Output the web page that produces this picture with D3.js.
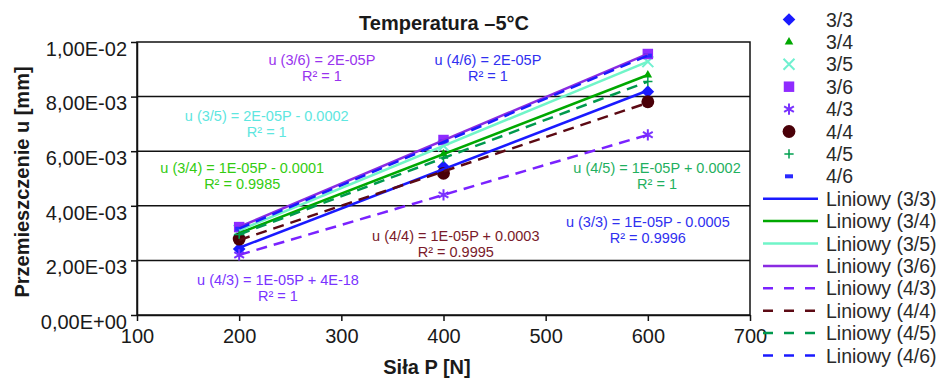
<!DOCTYPE html>
<html>
<head>
<meta charset="utf-8">
<script src="https://cdn.jsdelivr.net/npm/d3@7"></script>
<style>
  body { margin: 0; background: #fff; }
  svg { font-family: "Liberation Sans", Arial, sans-serif; }
</style>
</head>
<body>
<div id="chart"></div>
<script>
// data
const forces = [200, 400, 600];
const u33 = [0.00242, 0.00543, 0.00818];
const u34 = [0.00300, 0.00590, 0.00879];
const u35 = [0.00310, 0.00620, 0.00928];
const u36 = [0.00322, 0.00641, 0.00956];
const u43 = [0.00220, 0.00440, 0.00660];
const u44 = [0.00278, 0.00519, 0.00781];
const u45 = [0.00295, 0.00575, 0.00855];
const u46 = [0.00316, 0.00635, 0.00950];

const seriesNames = ["3/3", "3/4", "3/5", "3/6", "4/3", "4/4", "4/5", "4/6"];
const seriesValues = [u33, u34, u35, u36, u43, u44, u45, u46];

const xTicks = [100, 200, 300, 400, 500, 600, 700];
const yTicks = [0, 0.002, 0.004, 0.006, 0.008, 0.01];
const yTickLabels = ["0,00E+00", "2,00E-03", "4,00E-03", "6,00E-03", "8,00E-03", "1,00E-02"];

const equations = [
  ["u (3/3) = 1E-05P - 0.0005", "R\u00b2 = 0.9996"],
  ["u (3/4) = 1E-05P - 0.0001", "R\u00b2 = 0.9985"],
  ["u (3/5) = 2E-05P - 0.0002", "R\u00b2 = 1"],
  ["u (3/6) = 2E-05P", "R\u00b2 = 1"],
  ["u (4/3) = 1E-05P + 4E-18", "R\u00b2 = 1"],
  ["u (4/4) = 1E-05P + 0.0003", "R\u00b2 = 0.9995"],
  ["u (4/5) = 1E-05P + 0.0002", "R\u00b2 = 1"],
  ["u (4/6) = 2E-05P", "R\u00b2 = 1"]
];

// where each equation box sits, in data units (P, u)
const eqAnchor = [
  [600, 0.00322], [203, 0.00520], [227, 0.00711], [281, 0.00916],
  [238, 0.00110], [412, 0.00271], [609, 0.00520], [443.5, 0.00916]
];

// styles per series
const styles = [
  {marker: "diamond", mColor: "#1a1aff", lColor: "#1a1aff", dash: null, tColor: "#3030f0"},
  {marker: "triangle", mColor: "#00a800", lColor: "#00a800", dash: null, tColor: "#33cc11"},
  {marker: "x", mColor: "#70f0d0", lColor: "#70f5c8", dash: null, tColor: "#5ee6e0"},
  {marker: "square", mColor: "#8f2bff", lColor: "#8a2be2", dash: null, tColor: "#9933ee"},
  {marker: "asterisk", mColor: "#7a33ff", lColor: "#7a22ff", dash: "11,7", tColor: "#7a33ff"},
  {marker: "circle", mColor: "#4a0008", lColor: "#5c0a14", dash: "11,7", tColor: "#7a1a2a"},
  {marker: "plus", mColor: "#00a050", lColor: "#00994d", dash: "11,7", tColor: "#1fb060"},
  {marker: "dash", mColor: "#2a2aff", lColor: "#1a1aff", dash: "11,7", tColor: "#3030f0"}
];

const svgWidth = 942;
const svgHeight = 379;
const margin = {top: 42, right: 192, bottom: 64, left: 137};
const width = svgWidth - margin.left - margin.right;
const height = svgHeight - margin.top - margin.bottom;

const svg = d3.select("#chart")
  .append("svg")
  .attr("width", svgWidth)
  .attr("height", svgHeight);

const chartGroup = svg.append("g")
  .attr("transform", `translate(${margin.left}, ${margin.top})`);

const xScale = d3.scaleLinear().domain([100, 700]).range([0, width]);
const yScale = d3.scaleLinear().domain([0, 0.01]).range([height, 0]);

// gridlines
chartGroup.selectAll("line.grid")
  .data(yTicks.slice(1, -1))
  .enter()
  .append("line")
  .attr("x1", 0).attr("x2", width)
  .attr("y1", d => yScale(d)).attr("y2", d => yScale(d))
  .attr("stroke", "#111").attr("stroke-width", 1.5);

// plot border
chartGroup.append("rect")
  .attr("width", width).attr("height", height)
  .attr("fill", "none").attr("stroke", "#111").attr("stroke-width", 1.5);

// axes
const bottomAxis = d3.axisBottom(xScale).tickValues(xTicks).tickSize(6).tickSizeOuter(0);
const leftAxis = d3.axisLeft(yScale).tickValues(yTicks)
  .tickFormat((d, i) => yTickLabels[i]).tickSize(6).tickSizeOuter(0);

const xAxis = chartGroup.append("g")
  .attr("transform", `translate(0, ${height})`)
  .call(bottomAxis);
xAxis.selectAll("text").attr("font-size", "20px").attr("fill", "#1a1a1a").attr("dy", "0.95em");

const yAxis = chartGroup.append("g").call(leftAxis);
yAxis.selectAll("text").attr("font-size", "20px").attr("fill", "#1a1a1a")
  .attr("x", -10).attr("dy", "0.66em");

[xAxis, yAxis].forEach(a => {
  a.select(".domain").attr("stroke", "#111").attr("stroke-width", 1.5);
  a.selectAll(".tick line").attr("stroke", "#111").attr("stroke-width", 1.5);
});

// trendlines (least squares)
function fit(xs, ys) {
  const mx = d3.mean(xs), my = d3.mean(ys);
  const sxy = d3.sum(xs, (x, i) => (x - mx) * (ys[i] - my));
  const sxx = d3.sum(xs, x => (x - mx) * (x - mx));
  const b = sxy / sxx;
  return {b: b, a: my - b * mx};
}

const xMin = d3.min(forces), xMax = d3.max(forces);

// square turned 45 degrees, same width and height
const squareDiamond = {
  draw(context, size) {
    const r = Math.sqrt(size / 2);
    context.moveTo(0, -r);
    context.lineTo(r, 0);
    context.lineTo(0, r);
    context.lineTo(-r, 0);
    context.closePath();
  }
};

// markers
const symbolFor = {
  diamond: d3.symbol(squareDiamond, 80),
  triangle: d3.symbol(d3.symbolTriangle, 32),
  x: d3.symbol(d3.symbolX || d3.symbolCross, 80),
  square: d3.symbol(d3.symbolSquare, 110),
  asterisk: d3.symbol(d3.symbolAsterisk || d3.symbolCross, 90),
  circle: d3.symbol(d3.symbolCircle, 130),
  plus: d3.symbol(d3.symbolPlus || d3.symbolCross, 30)
};
const strokeMarkers = ["x", "asterisk", "plus"];

function drawMarker(g, kind, color, x, y) {
  if (kind === "dash") {
    g.append("rect")
      .attr("x", x - 4).attr("y", y - 2).attr("width", 8).attr("height", 4)
      .attr("fill", color);
    return;
  }
  const p = g.append("path")
    .attr("d", symbolFor[kind]())
    .attr("transform", `translate(${x}, ${y})`);
  if (strokeMarkers.includes(kind)) {
    p.attr("fill", "none").attr("stroke", color).attr("stroke-width", kind === "plus" ? 1.5 : 2);
  } else {
    p.attr("fill", color);
  }
}

const marksGroup = chartGroup.append("g");
seriesValues.forEach((vals, s) => {
  vals.forEach((v, i) => drawMarker(marksGroup, styles[s].marker, styles[s].mColor, xScale(forces[i]), yScale(v)));
});

const lineGroup = chartGroup.append("g");
seriesValues.forEach((vals, s) => {
  const f = fit(forces, vals);
  lineGroup.append("line")
    .attr("x1", xScale(xMin)).attr("y1", yScale(f.a + f.b * xMin))
    .attr("x2", xScale(xMax)).attr("y2", yScale(f.a + f.b * xMax))
    .attr("stroke", styles[s].lColor)
    .attr("stroke-width", 2.5)
    .attr("stroke-dasharray", styles[s].dash);
});

// equation labels
equations.forEach((lines, s) => {
  const t = chartGroup.append("text")
    .attr("x", xScale(eqAnchor[s][0]))
    .attr("y", yScale(eqAnchor[s][1]))
    .attr("text-anchor", "middle")
    .attr("font-size", "14.5px")
    .attr("fill", styles[s].tColor);
  lines.forEach((line, i) => {
    t.append("tspan")
      .attr("x", xScale(eqAnchor[s][0]))
      .attr("dy", i === 0 ? 0 : 16)
      .text(line);
  });
});

// title and axis labels
svg.append("text")
  .attr("x", 444).attr("y", 30)
  .attr("text-anchor", "middle")
  .attr("font-size", "20px").attr("font-weight", "bold").attr("fill", "#1a1a1a")
  .text("Temperatura \u20135\u00b0C");

svg.append("text")
  .attr("x", 427).attr("y", 374)
  .attr("text-anchor", "middle")
  .attr("font-size", "20px").attr("font-weight", "bold").attr("fill", "#1a1a1a")
  .text("Si\u0142a P [N]");

svg.append("text")
  .attr("transform", "rotate(-90)")
  .attr("x", -182).attr("y", 29)
  .attr("text-anchor", "middle")
  .attr("font-size", "20px").attr("font-weight", "bold").attr("fill", "#1a1a1a")
  .text("Przemieszczenie u [mm]");

// legend
const legend = svg.append("g");
const rowY = i => 19.5 + i * 22.4;

seriesNames.forEach((name, s) => {
  drawMarker(legend, styles[s].marker, styles[s].mColor, 789, rowY(s));
  legend.append("text")
    .attr("x", 826).attr("y", rowY(s)).attr("dy", "0.36em")
    .attr("font-size", "19.5px").attr("fill", "#2a2a2a")
    .text(name);
});

seriesNames.forEach((name, s) => {
  const y = rowY(s + 8);
  legend.append("line")
    .attr("x1", 763).attr("x2", 818).attr("y1", y).attr("y2", y)
    .attr("stroke", styles[s].lColor).attr("stroke-width", 2.5)
    .attr("stroke-dasharray", styles[s].dash ? "10,11" : null);
  legend.append("text")
    .attr("x", 826).attr("y", y).attr("dy", "0.36em")
    .attr("font-size", "19.5px").attr("fill", "#2a2a2a")
    .text(`Liniowy (${name})`);
});
</script>
</body>
</html>
